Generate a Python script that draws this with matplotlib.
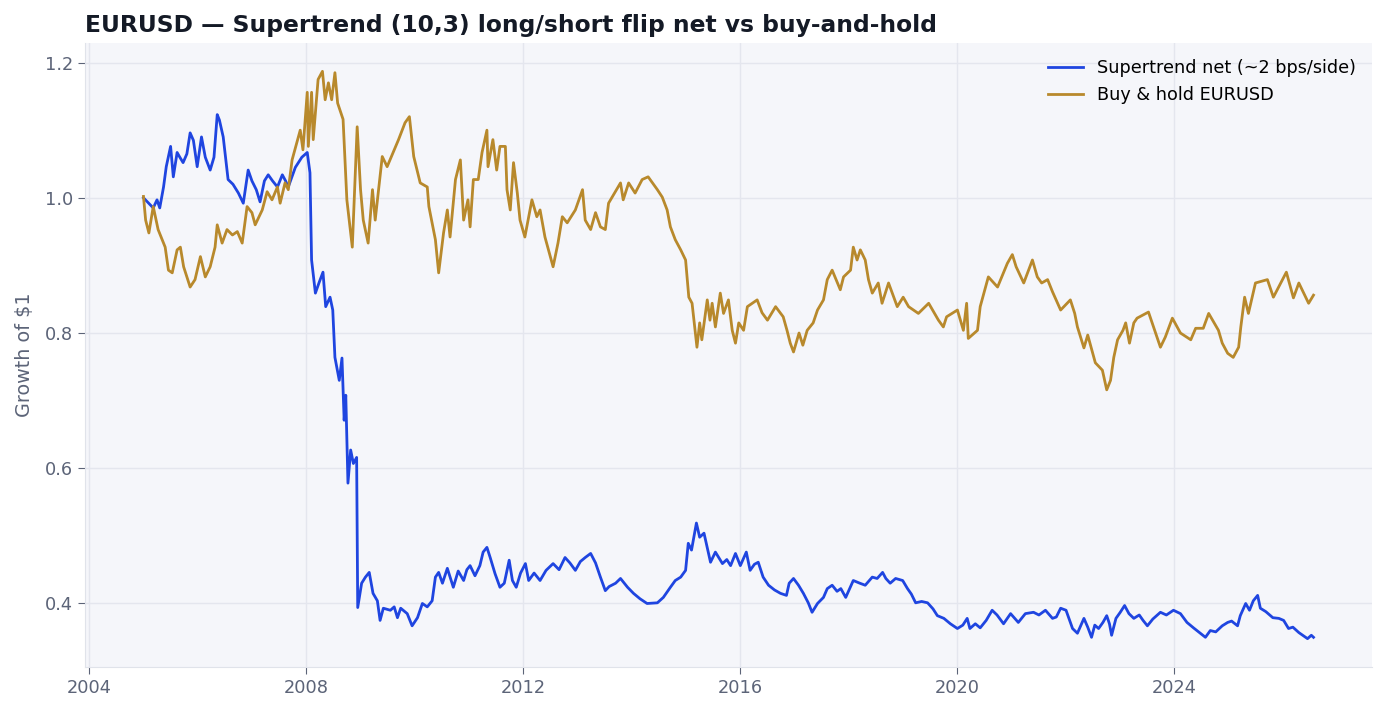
import datetime as dt
import matplotlib
matplotlib.use("Agg")
import matplotlib.pyplot as plt
import matplotlib.dates as mdates

# buy & hold EURUSD (decimal year, growth of $1)
hold_t = [2005.00, 2005.04, 2005.10, 2005.18, 2005.27, 2005.40, 2005.46, 2005.53, 2005.62, 2005.68,
          2005.74, 2005.86, 2005.95, 2006.05, 2006.14, 2006.23, 2006.32, 2006.36, 2006.45, 2006.54,
          2006.64, 2006.73, 2006.82, 2006.91, 2007.00, 2007.06, 2007.19, 2007.28, 2007.37, 2007.47,
          2007.52, 2007.61, 2007.67, 2007.74, 2007.89, 2007.94, 2008.02, 2008.04, 2008.10, 2008.13,
          2008.22, 2008.30, 2008.35, 2008.41, 2008.47, 2008.53, 2008.58, 2008.68, 2008.75, 2008.85,
          2008.94, 2009.00, 2009.05, 2009.14, 2009.22, 2009.27, 2009.40, 2009.49, 2009.60, 2009.70,
          2009.82, 2009.90, 2009.98, 2010.10, 2010.23, 2010.26, 2010.38, 2010.44, 2010.53, 2010.60,
          2010.65, 2010.75, 2010.84, 2010.90, 2010.98, 2011.02, 2011.08, 2011.17, 2011.24, 2011.33,
          2011.35, 2011.44, 2011.51, 2011.57, 2011.67, 2011.70, 2011.76, 2011.82, 2011.89, 2011.94,
          2012.03, 2012.16, 2012.25, 2012.31, 2012.40, 2012.55, 2012.64, 2012.72, 2012.81, 2012.96,
          2013.09, 2013.14, 2013.24, 2013.33, 2013.42, 2013.51, 2013.57, 2013.79, 2013.84, 2013.94,
          2014.06, 2014.19, 2014.30, 2014.47, 2014.56, 2014.65, 2014.71, 2014.80, 2014.90, 2014.99,
          2015.05, 2015.11, 2015.20, 2015.25, 2015.29, 2015.39, 2015.44, 2015.48, 2015.54, 2015.63,
          2015.69, 2015.78, 2015.85, 2015.91, 2015.97, 2016.06, 2016.13, 2016.31, 2016.40, 2016.50,
          2016.65, 2016.79, 2016.86, 2016.92, 2016.98, 2017.08, 2017.15, 2017.23, 2017.34, 2017.42,
          2017.53, 2017.60, 2017.69, 2017.84, 2017.90, 2018.03, 2018.08, 2018.15, 2018.21, 2018.30,
          2018.36, 2018.43, 2018.54, 2018.61, 2018.73, 2018.89, 2019.00, 2019.10, 2019.28, 2019.47,
          2019.65, 2019.74, 2019.80, 2020.00, 2020.11, 2020.17, 2020.20, 2020.37, 2020.42, 2020.57,
          2020.74, 2020.92, 2021.01, 2021.08, 2021.22, 2021.38, 2021.47, 2021.55, 2021.66, 2021.75,
          2021.90, 2022.08, 2022.16, 2022.21, 2022.33, 2022.40, 2022.54, 2022.67, 2022.75, 2022.82,
          2022.88, 2022.95, 2023.05, 2023.10, 2023.17, 2023.25, 2023.31, 2023.52, 2023.74, 2023.83,
          2023.96, 2024.11, 2024.30, 2024.39, 2024.53, 2024.63, 2024.81, 2024.88, 2024.98, 2025.08,
          2025.18, 2025.22, 2025.29, 2025.36, 2025.49, 2025.71, 2025.82, 2026.06, 2026.19, 2026.29,
          2026.47, 2026.56]
hold_v = [1.002, 0.967, 0.948, 0.987, 0.953, 0.927, 0.893, 0.889, 0.923, 0.927,
          0.898, 0.868, 0.879, 0.913, 0.883, 0.898, 0.927, 0.960, 0.933, 0.953,
          0.945, 0.950, 0.933, 0.987, 0.978, 0.960, 0.982, 1.009, 0.997, 1.016,
          0.992, 1.022, 1.012, 1.056, 1.100, 1.071, 1.156, 1.076, 1.156, 1.086,
          1.175, 1.187, 1.145, 1.170, 1.145, 1.185, 1.140, 1.116, 0.997, 0.927,
          1.105, 1.012, 0.967, 0.933, 1.012, 0.967, 1.061, 1.046, 1.067, 1.086,
          1.111, 1.120, 1.061, 1.022, 1.016, 0.987, 0.938, 0.889, 0.948, 0.982,
          0.942, 1.027, 1.056, 0.967, 0.997, 0.957, 1.027, 1.027, 1.067, 1.100,
          1.046, 1.086, 1.041, 1.076, 1.076, 1.012, 0.982, 1.052, 1.007, 0.967,
          0.942, 0.997, 0.972, 0.982, 0.942, 0.898, 0.933, 0.972, 0.963, 0.982,
          1.012, 0.967, 0.953, 0.978, 0.957, 0.953, 0.992, 1.022, 0.997, 1.022,
          1.007, 1.027, 1.031, 1.012, 1.001, 0.982, 0.957, 0.938, 0.923, 0.908,
          0.853, 0.844, 0.779, 0.815, 0.790, 0.849, 0.819, 0.844, 0.809, 0.859,
          0.829, 0.849, 0.804, 0.785, 0.815, 0.804, 0.839, 0.849, 0.830, 0.819,
          0.839, 0.824, 0.804, 0.785, 0.772, 0.800, 0.782, 0.804, 0.815, 0.834,
          0.849, 0.879, 0.893, 0.864, 0.883, 0.893, 0.927, 0.908, 0.923, 0.908,
          0.879, 0.859, 0.874, 0.844, 0.874, 0.839, 0.853, 0.839, 0.829, 0.844,
          0.819, 0.809, 0.824, 0.834, 0.804, 0.844, 0.792, 0.804, 0.839, 0.883,
          0.868, 0.903, 0.916, 0.898, 0.874, 0.908, 0.883, 0.874, 0.879, 0.861,
          0.834, 0.849, 0.829, 0.809, 0.778, 0.797, 0.756, 0.745, 0.716, 0.730,
          0.764, 0.790, 0.804, 0.815, 0.785, 0.815, 0.822, 0.831, 0.779, 0.794,
          0.822, 0.800, 0.790, 0.807, 0.807, 0.829, 0.804, 0.785, 0.770, 0.764,
          0.779, 0.809, 0.853, 0.829, 0.874, 0.879, 0.853, 0.890, 0.852, 0.874,
          0.844, 0.856]

# supertrend (10,3) long/short flip, net of costs
st_t = [2005.00, 2005.18, 2005.25, 2005.30, 2005.37, 2005.42, 2005.50, 2005.55, 2005.62, 2005.67,
        2005.73, 2005.80, 2005.86, 2005.92, 2005.99, 2006.07, 2006.14, 2006.23, 2006.30, 2006.36,
        2006.40, 2006.47, 2006.56, 2006.65, 2006.75, 2006.84, 2006.93, 2007.00, 2007.08, 2007.15,
        2007.23, 2007.30, 2007.38, 2007.47, 2007.56, 2007.62, 2007.67, 2007.80, 2007.92, 2008.02,
        2008.07, 2008.10, 2008.17, 2008.24, 2008.31, 2008.36, 2008.44, 2008.49, 2008.53, 2008.61,
        2008.66, 2008.70, 2008.73, 2008.77, 2008.82, 2008.87, 2008.93, 2008.95, 2009.02, 2009.09,
        2009.16, 2009.23, 2009.31, 2009.36, 2009.42, 2009.55, 2009.62, 2009.68, 2009.74, 2009.86,
        2009.95, 2010.05, 2010.14, 2010.23, 2010.32, 2010.38, 2010.44, 2010.51, 2010.60, 2010.71,
        2010.80, 2010.90, 2010.96, 2011.02, 2011.11, 2011.20, 2011.26, 2011.33, 2011.39, 2011.48,
        2011.57, 2011.65, 2011.74, 2011.80, 2011.87, 2011.95, 2012.04, 2012.10, 2012.20, 2012.31,
        2012.42, 2012.55, 2012.66, 2012.77, 2012.86, 2012.96, 2013.05, 2013.14, 2013.24, 2013.33,
        2013.42, 2013.51, 2013.58, 2013.70, 2013.79, 2013.92, 2014.03, 2014.15, 2014.28, 2014.47,
        2014.58, 2014.71, 2014.80, 2014.90, 2014.99, 2015.04, 2015.10, 2015.19, 2015.25, 2015.33,
        2015.45, 2015.54, 2015.67, 2015.75, 2015.82, 2015.91, 2016.00, 2016.11, 2016.18, 2016.26,
        2016.33, 2016.42, 2016.52, 2016.63, 2016.74, 2016.85, 2016.90, 2016.98, 2017.07, 2017.16,
        2017.25, 2017.32, 2017.42, 2017.53, 2017.60, 2017.69, 2017.78, 2017.85, 2017.94, 2018.08,
        2018.20, 2018.30, 2018.43, 2018.52, 2018.62, 2018.68, 2018.76, 2018.86, 2018.99, 2019.08,
        2019.15, 2019.23, 2019.34, 2019.45, 2019.55, 2019.63, 2019.75, 2019.87, 2020.00, 2020.10,
        2020.18, 2020.23, 2020.33, 2020.42, 2020.53, 2020.64, 2020.73, 2020.85, 2020.98, 2021.12,
        2021.25, 2021.40, 2021.50, 2021.62, 2021.75, 2021.82, 2021.90, 2022.00, 2022.12, 2022.21,
        2022.33, 2022.40, 2022.47, 2022.53, 2022.60, 2022.68, 2022.75, 2022.80, 2022.84, 2022.92,
        2023.00, 2023.08, 2023.16, 2023.25, 2023.35, 2023.42, 2023.50, 2023.60, 2023.74, 2023.85,
        2023.98, 2024.11, 2024.23, 2024.35, 2024.46, 2024.57, 2024.66, 2024.76, 2024.88, 2024.98,
        2025.05, 2025.16, 2025.21, 2025.31, 2025.38, 2025.45, 2025.53, 2025.58, 2025.68, 2025.81,
        2025.92, 2026.01, 2026.10, 2026.18, 2026.29, 2026.45, 2026.52, 2026.56]
st_v = [1.000, 0.985, 0.997, 0.985, 1.016, 1.046, 1.076, 1.031, 1.067, 1.060,
        1.052, 1.065, 1.096, 1.085, 1.046, 1.090, 1.060, 1.041, 1.060, 1.123,
        1.115, 1.090, 1.027, 1.020, 1.007, 0.992, 1.041, 1.025, 1.012, 0.994,
        1.025, 1.034, 1.025, 1.016, 1.034, 1.025, 1.016, 1.045, 1.060, 1.067,
        1.037, 0.908, 0.859, 0.875, 0.890, 0.839, 0.853, 0.834, 0.764, 0.730,
        0.763, 0.671, 0.708, 0.578, 0.627, 0.607, 0.616, 0.394, 0.430, 0.439,
        0.446, 0.415, 0.404, 0.375, 0.393, 0.390, 0.395, 0.379, 0.393, 0.385,
        0.367, 0.379, 0.400, 0.395, 0.404, 0.439, 0.446, 0.430, 0.452, 0.424,
        0.448, 0.434, 0.450, 0.456, 0.441, 0.456, 0.476, 0.483, 0.468, 0.444,
        0.424, 0.430, 0.464, 0.434, 0.424, 0.445, 0.459, 0.434, 0.445, 0.434,
        0.449, 0.459, 0.450, 0.468, 0.460, 0.449, 0.462, 0.468, 0.474, 0.460,
        0.439, 0.419, 0.425, 0.430, 0.437, 0.424, 0.415, 0.407, 0.400, 0.401,
        0.409, 0.424, 0.434, 0.439, 0.449, 0.489, 0.479, 0.519, 0.498, 0.504,
        0.461, 0.476, 0.459, 0.465, 0.456, 0.474, 0.456, 0.476, 0.449, 0.458,
        0.461, 0.439, 0.427, 0.420, 0.415, 0.412, 0.430, 0.437, 0.427, 0.415,
        0.401, 0.387, 0.400, 0.409, 0.422, 0.427, 0.418, 0.422, 0.409, 0.434,
        0.430, 0.427, 0.439, 0.437, 0.446, 0.437, 0.430, 0.437, 0.434, 0.422,
        0.414, 0.401, 0.403, 0.401, 0.392, 0.382, 0.378, 0.370, 0.363, 0.368,
        0.378, 0.363, 0.370, 0.364, 0.375, 0.390, 0.383, 0.370, 0.385, 0.372,
        0.385, 0.387, 0.383, 0.390, 0.378, 0.380, 0.393, 0.390, 0.363, 0.356,
        0.378, 0.365, 0.350, 0.368, 0.363, 0.372, 0.382, 0.370, 0.353, 0.378,
        0.387, 0.397, 0.385, 0.378, 0.383, 0.375, 0.367, 0.377, 0.387, 0.383,
        0.390, 0.385, 0.372, 0.364, 0.357, 0.350, 0.360, 0.358, 0.367, 0.372,
        0.374, 0.367, 0.382, 0.400, 0.390, 0.404, 0.412, 0.393, 0.388, 0.379,
        0.378, 0.375, 0.363, 0.365, 0.357, 0.348, 0.353, 0.350]


def to_date(y):
    yr = int(y)
    return dt.datetime(yr, 1, 1) + dt.timedelta(days=(y - yr) * 365.25)


hold_d = [to_date(y) for y in hold_t]
st_d = [to_date(y) for y in st_t]

grey = '#5c6478'
fig = plt.figure(figsize=(13.86, 7.14), dpi=100)
ax = fig.add_axes([0.0613, 0.0658, 0.9286, 0.874])
ax.set_facecolor('#f5f6fa')

ax.plot(st_d, st_v, color='#1f45e0', lw=2.0, label='Supertrend net (~2 bps/side)')
ax.plot(hold_d, hold_v, color='#b8892c', lw=2.0, label='Buy & hold EURUSD')

ax.grid(True, color='#e4e6ee', lw=1.0)
ax.set_axisbelow(True)
for s in ['top', 'right']:
    ax.spines[s].set_visible(False)
for s in ['left', 'bottom']:
    ax.spines[s].set_color('#e0e3ea')
ax.tick_params(colors=grey, labelsize=12.8, length=5, color=grey)
ax.xaxis.set_major_locator(mdates.YearLocator(4))
ax.xaxis.set_major_formatter(mdates.DateFormatter('%Y'))
ax.set_yticks([0.4, 0.6, 0.8, 1.0, 1.2])

ax.set_ylabel('Growth of $1', color=grey, fontsize=13.8, labelpad=8)
ax.set_title('EURUSD — Supertrend (10,3) long/short flip net vs buy-and-hold',
             loc='left', fontsize=16.8, fontweight='bold', color='#141a26', pad=8)
ax.legend(loc='upper right', frameon=False, fontsize=12.7)

fig.savefig('out.png', dpi=100)
